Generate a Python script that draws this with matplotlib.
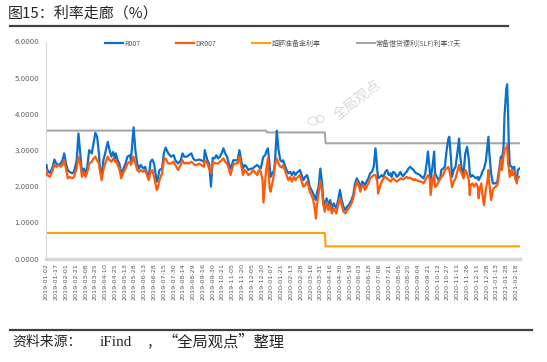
import numpy as np
import matplotlib
matplotlib.use("Agg")
import matplotlib.pyplot as plt
from matplotlib.patches import Ellipse

plt.rcParams['font.family'] = ['Noto Sans CJK SC', 'DejaVu Sans']

# ---------------- data ----------------
tick_labels = [
    "2019-01-02", "2019-01-17", "2019-02-01", "2019-02-21", "2019-03-08", "2019-03-25",
    "2019-04-10", "2019-04-25", "2019-05-13", "2019-05-28", "2019-06-13", "2019-06-28",
    "2019-07-15", "2019-07-30", "2019-08-14", "2019-08-29", "2019-09-16", "2019-09-30",
    "2019-10-21", "2019-11-05", "2019-11-20", "2019-12-05", "2019-12-20", "2020-01-07",
    "2020-01-21", "2020-02-13", "2020-02-28", "2020-03-16", "2020-03-31", "2020-04-16",
    "2020-04-30", "2020-05-19", "2020-06-03", "2020-06-18", "2020-07-06", "2020-07-21",
    "2020-08-05", "2020-08-20", "2020-09-04", "2020-09-21", "2020-10-12", "2020-10-27",
    "2020-11-11", "2020-11-26", "2020-12-11", "2020-12-28", "2021-01-13", "2021-01-28",
    "2021-02-18",
]
days_per_label = 11          # trading days between labelled dates
n_days = 533                 # trading days in the sample

# trading-day index of each sampled observation
days = [
    0, 1, 4, 7, 9, 11, 14, 16, 18, 20, 22, 24, 26, 29, 31, 34, 36, 38, 40, 42,
    44, 46, 48, 51, 53, 55, 57, 59, 60, 62, 64, 66, 69, 71, 73, 75, 77, 78, 80, 82,
    84, 86, 89, 91, 94, 95, 98, 100, 102, 104, 106, 109, 111, 113, 115, 117, 119, 121, 124, 125,
    127, 130, 132, 134,
    137, 140, 143, 145, 148, 151, 153, 155, 158, 160, 163, 165, 167, 169, 172, 174, 177, 178, 181, 183,
    185, 187, 189, 191, 193, 195, 197, 199, 201, 203, 205, 207, 208, 210, 212, 215, 217, 219, 221, 223,
    225, 227, 230, 232, 234, 237, 239, 241, 243, 244, 246, 247, 249, 251, 252, 254, 256, 257, 259, 261,
    263, 265,
    266, 268, 270, 272, 274, 276, 278, 280, 281, 283, 285, 287, 289, 291, 293, 295, 296, 298, 300, 302,
    303, 304, 306, 308, 310, 311, 313, 315, 317, 319, 321, 323, 325, 326, 328, 330, 332, 334, 336, 338,
    340, 341, 343, 345, 347, 349, 351, 353, 355, 357, 358, 360, 362, 364, 366, 368, 370, 372, 373, 375,
    377, 379, 381, 383, 385, 387, 388, 390, 392, 394, 396, 398,
    399, 401, 403, 405, 407, 409, 411, 413, 414, 416, 418, 420, 422, 424, 426, 428, 429, 431, 432, 434,
    436, 437, 439, 441, 443, 444, 446, 448, 450, 452, 453, 455, 456, 458, 460, 462, 464, 465, 467, 469,
    471, 473, 475, 476, 477, 479, 481, 483, 485, 486, 487, 489, 490, 492, 494, 496, 497, 498, 500, 502,
    503, 505, 507, 509, 511, 512, 514, 515, 517, 518, 519, 520, 521, 523, 524, 526, 527, 529, 530, 532,
]

r007 = [
    2.60, 2.46, 2.37, 2.55, 2.75, 2.64, 2.60, 2.64, 2.73, 2.92, 2.64, 2.46, 2.41, 2.37, 2.41, 2.73, 3.47, 2.92, 2.37, 2.50,
    2.37, 2.55, 3.01, 2.92, 3.20, 3.49, 3.38, 2.92, 2.55, 2.27, 2.73, 2.92, 3.24, 3.01, 2.83, 2.96, 2.78, 2.92, 2.73, 2.64,
    2.37, 2.46, 2.64, 2.83, 2.87, 2.73, 3.64, 3.01, 2.64, 2.50, 2.60, 2.50, 2.55, 2.37, 2.27, 2.69, 2.75, 2.64, 2.14, 2.18,
    2.46, 2.50, 2.92, 3.08,
    2.92, 2.83, 2.87, 2.73, 2.64, 2.73, 2.92, 2.83, 2.83, 2.87, 2.92, 2.78, 2.73, 2.73, 2.75, 2.73, 2.69, 3.01, 2.73, 2.64,
    2.00, 2.80, 2.78, 2.87, 2.78, 2.83, 2.92, 3.06, 2.92, 2.83, 2.64, 2.50, 2.55, 2.73, 2.73, 2.73, 3.01, 2.73, 2.50, 2.60,
    2.55, 2.46, 2.50, 2.50, 2.55, 2.60, 2.55, 2.50, 2.73, 2.83, 2.87, 2.96, 3.06, 2.60, 2.27, 2.37, 2.46, 2.70, 3.55, 3.01,
    2.73, 2.69,
    2.73, 2.60, 2.46, 2.37, 2.41, 2.32, 2.41, 2.32, 2.37, 2.41, 2.46, 2.32, 2.18, 2.27, 2.32, 2.14, 2.00, 1.91, 1.81, 1.68,
    1.63, 1.81, 2.00, 2.50, 2.09, 1.68, 1.45, 1.68, 1.49, 1.63, 1.40, 1.54, 1.45, 1.40, 1.63, 1.91, 1.63, 1.45, 1.35, 1.45,
    1.49, 1.54, 1.63, 1.77, 2.09, 2.23, 2.14, 1.95, 2.14, 2.09, 2.04, 2.14, 2.23, 2.37, 2.41, 2.55, 3.06, 2.46, 2.23, 2.27,
    2.32, 2.27, 2.41, 2.46, 2.32, 2.37, 2.27, 2.41, 2.37, 2.27, 2.32, 2.41,
    2.35, 2.29, 2.36, 2.41, 2.50, 2.55, 2.50, 2.46, 2.41, 2.37, 2.35, 2.32, 2.27, 2.23, 2.37, 2.74, 2.97, 2.46, 2.18, 2.55,
    2.97, 2.37, 2.27, 2.18, 2.27, 2.46, 2.50, 2.55, 3.01, 3.33, 3.38, 2.74, 2.27, 2.46, 2.55, 2.92, 3.33, 2.92, 2.46, 2.37,
    2.92, 3.10, 2.74, 2.37, 2.27, 2.32, 2.27, 2.23, 2.27, 2.18, 2.23, 2.32, 2.41, 2.50, 2.69, 3.15, 3.38, 2.92, 2.37, 2.09,
    2.09, 2.09, 2.14, 2.46, 2.83, 2.69, 3.10, 3.93, 4.67, 4.83, 4.12, 3.10, 2.60, 2.55, 2.50, 2.55, 2.27, 2.18, 2.46, 2.50,
]

dr007 = [
    2.46, 2.32, 2.27, 2.46, 2.60, 2.55, 2.60, 2.55, 2.60, 2.73, 2.50, 2.23, 2.27, 2.23, 2.27, 2.50, 2.83, 2.64, 2.27, 2.41,
    2.27, 2.41, 2.64, 2.69, 2.78, 2.83, 2.73, 2.64, 2.46, 2.18, 2.46, 2.64, 2.83, 2.73, 2.69, 2.78, 2.69, 2.73, 2.60, 2.50,
    2.23, 2.37, 2.50, 2.64, 2.69, 2.60, 2.83, 2.64, 2.46, 2.41, 2.46, 2.41, 2.46, 2.32, 2.18, 2.41, 2.46, 2.27, 1.91, 1.95,
    2.18, 2.37, 2.73, 2.78,
    2.64, 2.64, 2.69, 2.60, 2.46, 2.60, 2.73, 2.64, 2.66, 2.64, 2.69, 2.64, 2.60, 2.60, 2.64, 2.60, 2.55, 2.73, 2.64, 2.50,
    2.37, 2.66, 2.66, 2.64, 2.64, 2.69, 2.73, 2.78, 2.69, 2.64, 2.50, 2.32, 2.41, 2.60, 2.64, 2.64, 2.83, 2.60, 2.32, 2.46,
    2.41, 2.32, 2.37, 2.46, 2.41, 2.32, 2.46, 2.41, 2.18, 1.56, 2.18, 2.46, 2.78, 1.95, 1.86, 2.09, 2.37, 2.60, 2.78, 2.64,
    2.55, 2.53,
    2.60, 2.46, 2.32, 2.18, 2.27, 2.14, 2.27, 2.18, 2.23, 2.27, 2.32, 2.14, 2.00, 2.04, 2.14, 2.00, 1.86, 1.77, 1.63, 1.35,
    1.12, 1.45, 1.81, 2.18, 1.86, 1.54, 1.31, 1.58, 1.35, 1.49, 1.26, 1.40, 1.31, 1.26, 1.49, 1.68, 1.49, 1.31, 1.26, 1.35,
    1.40, 1.45, 1.54, 1.68, 1.95, 2.14, 2.04, 1.86, 2.04, 2.00, 1.91, 2.00, 2.09, 2.23, 2.27, 2.32, 2.32, 2.14, 1.81, 2.00,
    2.14, 2.23, 2.27, 2.23, 2.18, 2.14, 2.18, 2.23, 2.18, 2.14, 2.18, 2.23,
    2.23, 2.20, 2.23, 2.27, 2.23, 2.25, 2.21, 2.18, 2.21, 2.18, 2.16, 2.14, 2.14, 2.09, 2.18, 2.27, 2.32, 2.23, 1.77, 2.18,
    2.32, 1.99, 2.04, 2.14, 2.23, 2.27, 2.32, 2.46, 2.50, 2.55, 2.46, 2.20, 1.99, 2.14, 2.23, 2.41, 2.60, 2.46, 2.37, 2.23,
    2.46, 2.37, 2.18, 1.77, 2.04, 2.09, 2.00, 2.09, 2.00, 1.68, 1.91, 2.09, 1.82, 1.49, 1.91, 2.18, 2.46, 2.09, 1.63, 1.91,
    1.95, 2.00, 2.04, 2.37, 2.74, 2.46, 2.83, 3.04, 3.06, 3.15, 2.64, 2.50, 2.27, 2.46, 2.32, 2.41, 2.23, 2.09, 2.27, 2.27,
]

# policy rates: levels and the trading day on which each new level starts
excess_levels = [0.72, 0.35]
excess_starts = [0, 314]
slf_levels = [3.55, 3.50, 3.20]
slf_starts = [0, 248, 314]

series_names = ["R007", "DR007", "超额准备金利率", "常备借贷便利(SLF)利率:7天"]
colors = ["#0A70CC", "#FF5A0A", "#FFA10A", "#A6A6A6"]


def step_series(levels, starts, n):
    out = np.empty(n)
    bounds = list(starts) + [n]
    for lv, a, b in zip(levels, bounds[:-1], bounds[1:]):
        out[a:b] = lv
    return out


# ---------------- figure ----------------
W, H = 547, 362
fig = plt.figure(figsize=(W / 100, H / 100), dpi=100)
ax = fig.add_axes([46 / W, 1 - 259 / H, (520 - 46) / W, (259 - 42) / H])

all_days = np.arange(n_days)
ax.plot(days, r007, color=colors[0], lw=1.6, label=series_names[0], zorder=3)
ax.plot(days, dr007, color=colors[1], lw=1.6, label=series_names[1], zorder=4)
ax.plot(all_days, step_series(excess_levels, excess_starts, n_days), color=colors[2],
        lw=1.5, label=series_names[2], zorder=2)
ax.plot(all_days, step_series(slf_levels, slf_starts, n_days), color=colors[3],
        lw=1.5, label=series_names[3], zorder=2)

ax.set_xlim(-0.5, n_days - 0.5)
ax.set_ylim(0, 6)
ax.set_yticks(np.arange(0, 7, 1))
ax.set_yticklabels([f"{v:.4f}" for v in np.arange(0, 7, 1)])
ax.set_xticks(np.arange(len(tick_labels)) * days_per_label)
ax.set_xticklabels(tick_labels, rotation=90, family=['DejaVu Sans'])
ax.tick_params(axis='x', length=0, pad=3, labelsize=4.6, labelcolor='#595959')
ax.tick_params(axis='y', length=0, pad=5, labelsize=5, labelcolor='#595959')
for lab in ax.get_yticklabels():
    lab.set_family(['DejaVu Sans'])

for s in ['top', 'right']:
    ax.spines[s].set_visible(False)
ax.spines['left'].set_color('#D9D9D9')
ax.spines['left'].set_linewidth(0.8)
ax.spines['bottom'].set_color('#D9D9D9')
ax.spines['bottom'].set_linewidth(2.5)

leg = ax.legend(loc='upper center', bbox_to_anchor=(0.5, 1.04), ncol=4, frameon=False,
                fontsize=5, handlelength=2.6, handletextpad=0.15, columnspacing=5.2)
for t in leg.get_texts():
    t.set_color('#595959')

# title and rules
fig.text(8 / W, 1 - 13 / H, "图15：利率走廊（%）", fontsize=10.8, color='#262626',
         va='center', ha='left')
fig.add_artist(plt.Line2D([10 / W, 508 / W], [1 - 25.5 / H] * 2, color='#404040', lw=1.6))
fig.add_artist(plt.Line2D([10 / W, 532 / W], [1 - 330 / H] * 2, color='#404040', lw=1.6))

# source line
src_y = 1 - 342 / H
fig.text(12 / W, src_y, "资料来源：", fontsize=10, color='#262626', va='center', ha='left')
fig.text(100 / W, src_y, "iFind", fontsize=11, color='#262626', va='center', ha='left',
         family=['Liberation Serif'])
fig.text(146 / W, src_y, "，", fontsize=10, color='#262626', va='center', ha='left')
fig.text(162 / W, src_y, "“全局观点”整理", fontsize=11, color='#262626', va='center',
         ha='left')

# watermark
fig.text(357 / W, 1 - 100 / H, "全局观点", fontsize=10, color='#D9D9D9', rotation=38,
         ha='center', va='center')
fig.add_artist(Ellipse((313 / W, 1 - 121 / H), 10 / W, 8 / H, fill=False,
                       edgecolor='#D9D9D9', lw=0.7))
fig.add_artist(Ellipse((320 / W, 1 - 119 / H), 8 / W, 7 / H, fill=False,
                       edgecolor='#D9D9D9', lw=0.7))

fig.savefig("out.png", dpi=100)
